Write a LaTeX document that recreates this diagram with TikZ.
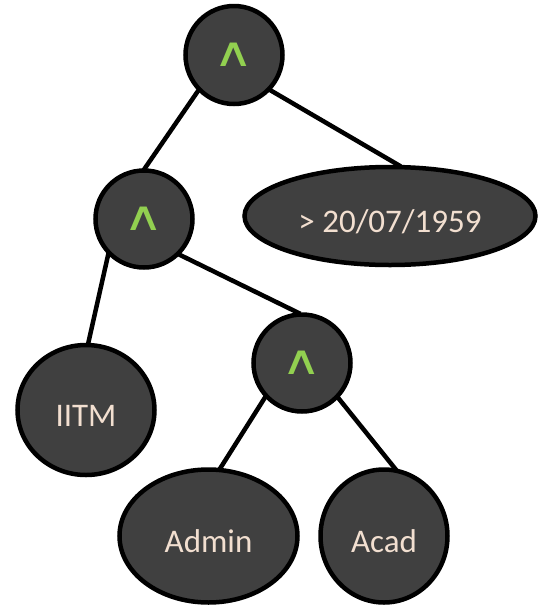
\documentclass[tikz,border=0pt]{standalone}
\usepackage{fontspec}
\usepackage{graphicx}
\setmainfont{Carlito}
\newfontfamily\symfont{DejaVu Sans}
\usetikzlibrary{shapes.geometric}
\pgfdeclarelayer{background}
\pgfsetlayers{background,main}
\definecolor{nodefill}{HTML}{404040}
\definecolor{txt}{HTML}{F2DFD0}
\definecolor{andgreen}{HTML}{92D050}
\newcommand{\andsym}{\scalebox{1.2}[0.88]{∧}}
\tikzset{
  treenode/.style={ellipse, draw=black, line width=4.5pt, fill=nodefill, inner sep=0pt,
    font=\fontsize{33}{36}\selectfont, text=txt, text height=32pt, text depth=0pt},
  andnode/.style={treenode, minimum width=97pt, minimum height=97pt,
    font=\symfont\fontsize{46}{48}\selectfont, text=andgreen,
    text height=, text depth=},
  edge/.style={line width=4.5pt, black, shorten <=-3pt, shorten >=-3pt}
}
\begin{document}
\begin{tikzpicture}[x=1pt,y=-1pt]
\useasboundingbox (0,0) rectangle (538,606);
\node[andnode, minimum height=98pt] (root) at (234,55) {\andsym};
\node[andnode] (and2) at (144,219) {\andsym};
\node[treenode, minimum width=291pt, minimum height=98pt] (date) at (390,216) {> 20/07/1959};
\node[treenode, minimum width=137pt, minimum height=130pt] (iitm) at (86,410) {IITM};
\node[andnode] (and3) at (302,363) {\andsym};
\node[treenode, minimum width=178pt, minimum height=133pt] (admin) at (208.5,536) {Admin};
\node[treenode, minimum width=127pt, minimum height=133pt] (acad) at (384,536) {Acad};
\begin{pgfonlayer}{background}
\draw[edge] (root.225) -- (and2.89);
\draw[edge] (root.316) -- (date.81);
\draw[edge] (and2.225) -- (iitm.88);
\draw[edge] (and2.315) -- (and3.95);
\draw[edge] (and3.223) -- (admin.80);
\draw[edge] (and3.316) -- (acad.81);
\end{pgfonlayer}
\end{tikzpicture}
\end{document}
